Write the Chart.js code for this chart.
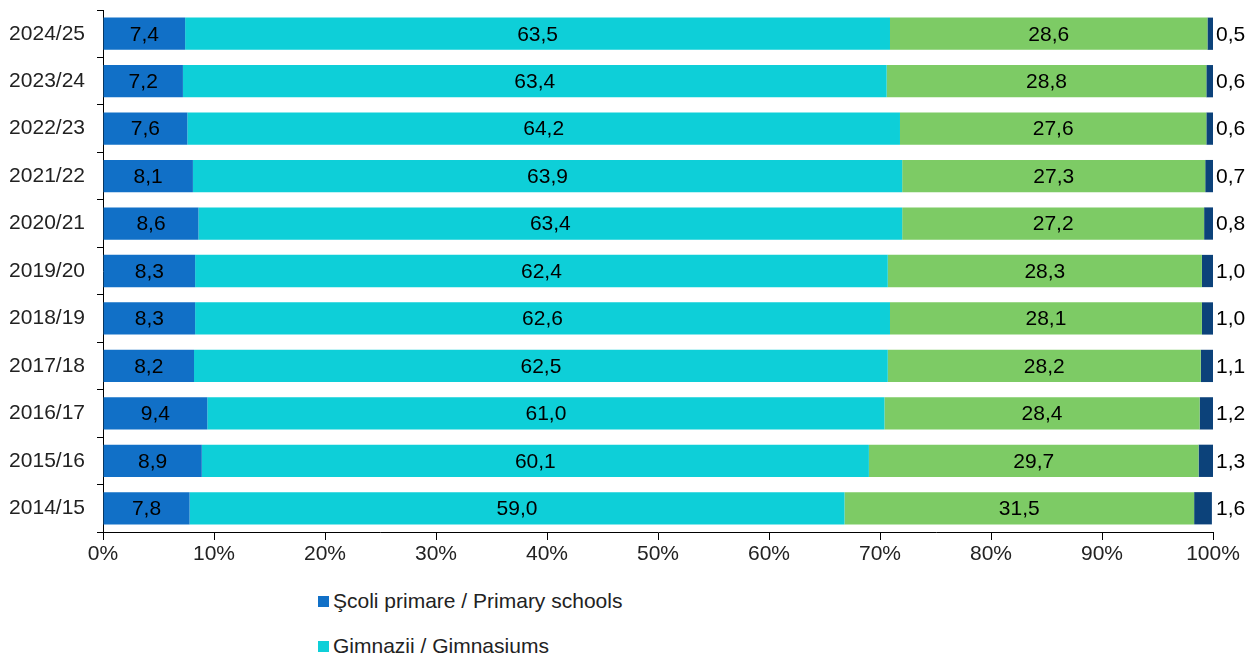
<!DOCTYPE html>
<html>
<head>
<meta charset="utf-8">
<script src="https://cdn.jsdelivr.net/npm/chart.js@4.4.1/dist/chart.umd.min.js"></script>
<style>
  html, body { margin: 0; padding: 0; background: #fff; overflow: hidden; width: 1256px; height: 659px; }
  #wrap { position: relative; width: 1256px; height: 575px; }
  #legend { position: absolute; left: 318px; top: 586px; font-family: 'Liberation Sans', Arial, sans-serif; font-size: 21px; color: #222; }
  .item { height: 45px; line-height: 30px; display: flex; align-items: flex-start; }
  .item span.box { display: inline-block; width: 11px; height: 11px; margin-right: 4px; margin-top: 10px; }
</style>
</head>
<body>
<div id="wrap"><canvas id="chart"></canvas></div>
<div id="legend"></div>
<script>
// Categorii (de sus in jos)
const years = ['2024/25', '2023/24', '2022/23', '2021/22', '2020/21', '2019/20', '2018/19', '2017/18', '2016/17', '2015/16', '2014/15'];

// Serii (%)
const primary   = [7.4, 7.2, 7.6, 8.1, 8.6, 8.3, 8.3, 8.2, 9.4, 8.9, 7.8];
const gymnasium = [63.5, 63.4, 64.2, 63.9, 63.4, 62.4, 62.6, 62.5, 61.0, 60.1, 59.0];
const lyceum    = [28.6, 28.8, 27.6, 27.3, 27.2, 28.3, 28.1, 28.2, 28.4, 29.7, 31.5];
const special   = [0.5, 0.6, 0.6, 0.7, 0.8, 1.0, 1.0, 1.1, 1.2, 1.3, 1.6];

const seriesNames = ['Şcoli primare / Primary schools', 'Gimnazii / Gimnasiums', 'Licee / Lyceums', 'Şcoli speciale / Special schools'];
const colors = ['#1170C7', '#0ECFD8', '#7DCB65', '#0C427A'];
const xTicks = [0, 10, 20, 30, 40, 50, 60, 70, 80, 90, 100];

const FONT = "'Liberation Sans', Arial, sans-serif";
const fmt = (v) => v.toFixed(1).replace('.', ',');

// etichete de valori pe bare
const valueLabels = {
    id: 'valueLabels',
    afterDatasetsDraw(chart) {
        const ctx = chart.ctx;
        const last = chart.data.datasets.length - 1;
        ctx.save();
        ctx.font = '21px ' + FONT;
        ctx.fillStyle = '#000';
        ctx.textBaseline = 'middle';
        chart.data.datasets.forEach((ds, i) => {
            const meta = chart.getDatasetMeta(i);
            meta.data.forEach((bar, j) => {
                const txt = fmt(ds.data[j]);
                if (i === last) {
                    ctx.textAlign = 'left';
                    ctx.fillText(txt, chart.chartArea.right + 3, bar.y + 1);
                } else {
                    ctx.textAlign = 'center';
                    ctx.fillText(txt, (bar.x + bar.base) / 2, bar.y + 1);
                }
            });
        });
        ctx.restore();
    }
};

const datasets = [primary, gymnasium, lyceum, special].map((d, i) => ({
    label: seriesNames[i],
    data: d,
    backgroundColor: colors[i],
    borderWidth: 0,
    barPercentage: 0.68,
    categoryPercentage: 1.0
}));

new Chart(document.getElementById('chart'), {
    type: 'bar',
    data: { labels: years, datasets: datasets },
    plugins: [valueLabels],
    options: {
        indexAxis: 'y',
        responsive: true,
        maintainAspectRatio: false,
        animation: false,
        layout: { padding: { top: 10, right: 43, left: 0, bottom: 0 } },
        plugins: {
            legend: { display: false },
            tooltip: { enabled: false }
        },
        scales: {
            x: {
                stacked: true,
                min: 0,
                max: 100,
                afterBuildTicks: (s) => { s.ticks = xTicks.map(v => ({ value: v })); },
                afterFit: (s) => { s.height = 43; },
                grid: { drawOnChartArea: false, color: '#000', tickLength: 8, tickColor: '#000' },
                border: { color: '#000', width: 1 },
                ticks: {
                    color: '#222',
                    font: { family: FONT, size: 21 },
                    padding: 2,
                    maxRotation: 0,
                    callback: (v) => v + '%'
                }
            },
            y: {
                stacked: true,
                afterFit: (s) => { s.width = 103; s.paddingTop = 0; s.paddingBottom = 0; },
                grid: { drawOnChartArea: false, color: '#000', tickLength: 6, tickColor: '#000', offset: true },
                border: { color: '#000', width: 1 },
                ticks: {
                    color: '#222',
                    font: { family: FONT, size: 21 },
                    padding: 12
                }
            }
        }
    }
});

// legenda (verticala, sub grafic)
const legend = document.getElementById('legend');
seriesNames.forEach((name, i) => {
    const row = document.createElement('div');
    row.className = 'item';
    row.innerHTML = `<span class="box" style="background:${colors[i]}"></span>${name}`;
    legend.appendChild(row);
});
</script>
</body>
</html>
